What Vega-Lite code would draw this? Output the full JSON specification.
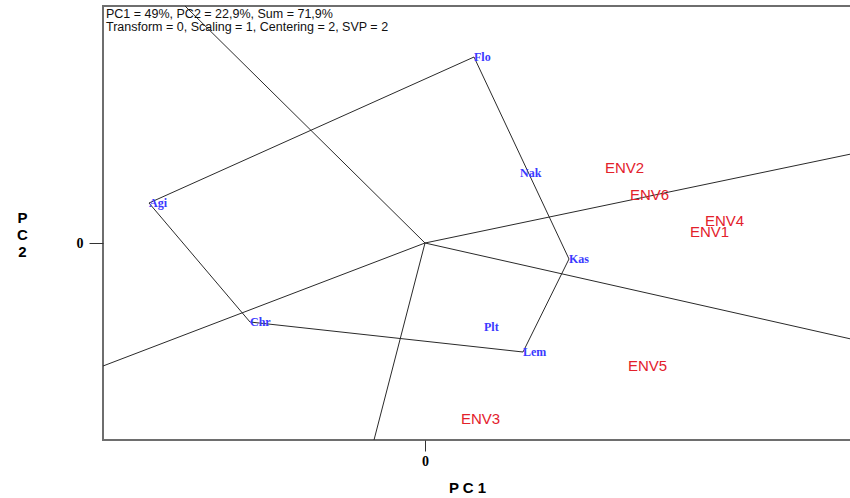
{
  "$schema": "https://vega.github.io/schema/vega-lite/v6.json",
  "width": 748,
  "height": 434,
  "autosize": {"type": "none"},
  "padding": {"left": 103, "top": 6, "right": 0, "bottom": 58},
  "background": "white",
  "config": {"view": {"stroke": "#6e6e6e", "strokeWidth": 2}},
  "datasets": {
    "rays": [
      {"ray": "R1", "pt": 0, "x": 0, "y": 0}, {"ray": "R1", "pt": 1, "x": -2.40, "y": 2.37},
      {"ray": "R2", "pt": 0, "x": 0, "y": 0}, {"ray": "R2", "pt": 1, "x": 4.26, "y": 0.89},
      {"ray": "R3", "pt": 0, "x": 0, "y": 0}, {"ray": "R3", "pt": 1, "x": 4.26, "y": -0.96},
      {"ray": "R4", "pt": 0, "x": 0, "y": 0}, {"ray": "R4", "pt": 1, "x": -0.51, "y": -1.97},
      {"ray": "R5", "pt": 0, "x": 0, "y": 0}, {"ray": "R5", "pt": 1, "x": -3.22, "y": -1.23}
    ],
    "polygon": [
      {"pt": 0, "x": 0.49, "y": 1.86},
      {"pt": 1, "x": 1.44, "y": -0.16},
      {"pt": 2, "x": 0.98, "y": -1.09},
      {"pt": 3, "x": -1.75, "y": -0.79},
      {"pt": 4, "x": -2.76, "y": 0.40},
      {"pt": 5, "x": 0.49, "y": 1.86}
    ],
    "genotypes": [
      {"name": "Flo", "x": 0.49, "y": 1.86},
      {"name": "Kas", "x": 1.44, "y": -0.16},
      {"name": "Lem", "x": 0.98, "y": -1.09},
      {"name": "Chr", "x": -1.75, "y": -0.79},
      {"name": "Agi", "x": -2.76, "y": 0.40},
      {"name": "Nak", "x": 0.95, "y": 0.70},
      {"name": "Plt", "x": 0.59, "y": -0.84}
    ],
    "envs": [
      {"name": "ENV2", "x": 1.80, "y": 0.75},
      {"name": "ENV6", "x": 2.05, "y": 0.48},
      {"name": "ENV4", "x": 2.80, "y": 0.22},
      {"name": "ENV1", "x": 2.65, "y": 0.11},
      {"name": "ENV5", "x": 2.03, "y": -1.23},
      {"name": "ENV3", "x": 0.36, "y": -1.76}
    ],
    "header": [
      {"label": "PC1 = 49%, PC2 = 22,9%, Sum = 71,9%", "x": -3.22, "y": 2.29},
      {"label": "Transform = 0, Scaling = 1, Centering = 2, SVP = 2", "x": -3.22, "y": 2.16}
    ]
  },
  "encoding": {
    "x": {
      "field": "x", "type": "quantitative",
      "scale": {"domain": [-3.22, 4.26], "nice": false, "zero": false},
      "axis": {
        "values": [0], "grid": false, "domain": false,
        "tickColor": "#333", "tickSize": 11, "tickWidth": 1,
        "labelFont": "Liberation Serif", "labelFontWeight": "bold", "labelFontSize": 14, "labelColor": "#000", "labelPadding": 3,
        "title": "P C 1", "titleFont": "Liberation Sans", "titleFontSize": 15, "titleFontWeight": "bold", "titleColor": "#000",
        "titleX": 364, "titleY": 47, "titleBaseline": "middle", "titleAlign": "center"
      }
    },
    "y": {
      "field": "y", "type": "quantitative",
      "scale": {"domain": [-1.97, 2.37], "nice": false, "zero": false},
      "axis": {
        "values": [0], "grid": false, "domain": false,
        "tickColor": "#333", "tickSize": 14, "tickWidth": 1,
        "labelFont": "Liberation Serif", "labelFontWeight": "bold", "labelFontSize": 14, "labelColor": "#000", "labelPadding": 6,
        "title": ["P", "C", "2"], "titleAngle": 0, "titleFont": "Liberation Sans", "titleFontSize": 15, "titleFontWeight": "bold", "titleColor": "#000",
        "titleX": -81, "titleY": 211, "titleAlign": "center", "titleBaseline": "middle", "titleLineHeight": 17
      }
    }
  },
  "layer": [
    {
      "data": {"name": "rays"},
      "mark": {"type": "line", "color": "#2a2a2a", "strokeWidth": 1, "clip": true},
      "encoding": {"detail": {"field": "ray"}, "order": {"field": "pt"}}
    },
    {
      "data": {"name": "polygon"},
      "mark": {"type": "line", "color": "#2a2a2a", "strokeWidth": 1, "clip": true},
      "encoding": {"order": {"field": "pt"}}
    },
    {
      "data": {"name": "genotypes"},
      "mark": {"type": "text", "align": "left", "baseline": "middle", "font": "Liberation Serif", "fontWeight": "bold", "fontSize": 12, "color": "#3a3aff"},
      "encoding": {"text": {"field": "name"}}
    },
    {
      "data": {"name": "envs"},
      "mark": {"type": "text", "align": "left", "baseline": "middle", "font": "Liberation Sans", "fontSize": 15, "color": "#e3212b"},
      "encoding": {"text": {"field": "name"}}
    },
    {
      "data": {"name": "header"},
      "mark": {"type": "text", "align": "left", "baseline": "middle", "dx": 3, "font": "Liberation Sans", "fontSize": 12.5, "color": "#111"},
      "encoding": {"text": {"field": "label"}}
    }
  ]
}
